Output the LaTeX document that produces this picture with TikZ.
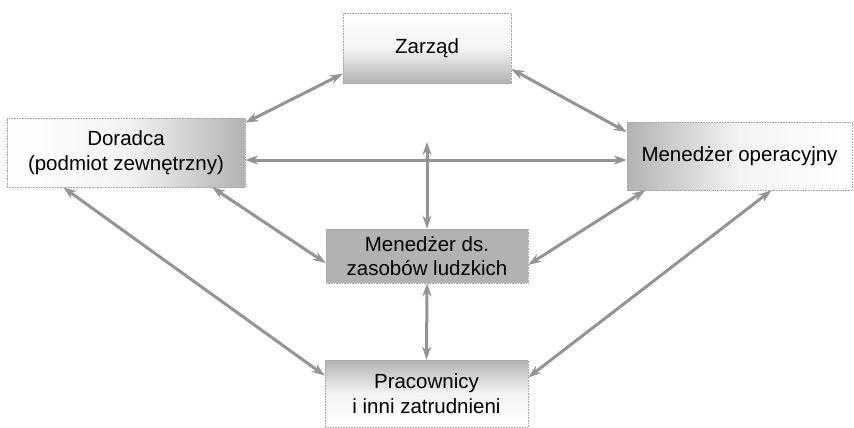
\documentclass[tikz,border=0pt]{standalone}
\usepackage{fontspec}
\setmainfont{Liberation Sans}
\usetikzlibrary{arrows.meta,shadings}
\definecolor{boxgray}{gray}{0.70}
\definecolor{arrgray}{gray}{0.58}
\tikzset{
  box/.style={draw=gray!70, densely dotted, line width=0.6pt, minimum width=#1, inner sep=0pt, align=center,
    font=\fontsize{20.5}{24.5}\selectfont, text=black},
  link/.style={draw=arrgray, line width=3pt, {Stealth[length=13pt,width=9pt]}-{Stealth[length=13pt,width=9pt]}}
}
\begin{document}
\begin{tikzpicture}[x=1pt,y=-1pt]
\useasboundingbox (0,0) rectangle (854,428);
\node[box=168pt, minimum height=70pt, top color=white, bottom color=boxgray, middle color=white!85!boxgray] (zarzad) at (427,48) {Zarząd};
\node[box=238pt, minimum height=69pt, left color=white, right color=boxgray, middle color=white!85!boxgray] (doradca) at (126,152.5) {Doradca\\(podmiot zewnętrzny)};
\node[box=225pt, minimum height=68pt, left color=boxgray, right color=white, middle color=white!85!boxgray] (mo) at (739.5,156) {Menedżer operacyjny};
\node[box=202pt, minimum height=54pt, fill=boxgray] (hr) at (427,256) {Menedżer ds.\\zasobów ludzkich};
\node[box=203pt, minimum height=67pt, top color=boxgray, bottom color=white, middle color=white!85!boxgray] (prac) at (426.5,393.5) {Pracownicy\\i inni zatrudnieni};
\coordinate (vtop) at (hr.north |- 0,142);
\draw[link] (zarzad.197) -- (doradca.14);
\draw[link] (zarzad.346) -- (mo.168);
\draw[link] ([yshift=-7.5pt]doradca.east) -- ([yshift=-7.5pt]doradca.east -| mo.west);
\draw[link] (vtop) -- (hr.north);
\draw[link] (doradca.338) -- (hr.184);
\draw[link] (mo.200) -- (hr.355);
\draw[link] (doradca.209) -- (prac.170);
\draw[link] (mo.313) -- (prac.9);
\draw[link] (hr.south) -- (prac.north);
\end{tikzpicture}
\end{document}
